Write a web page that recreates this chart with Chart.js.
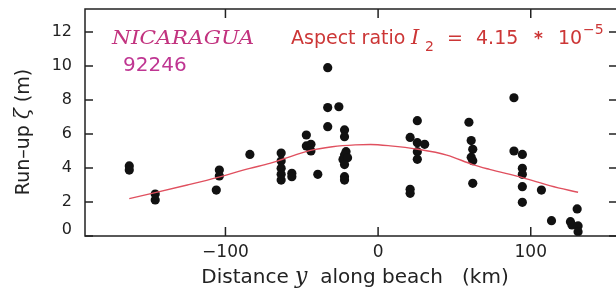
<!DOCTYPE html>
<html>
<head>
<meta charset="utf-8">
<script src="https://cdn.jsdelivr.net/npm/chart.js@4.4.0/dist/chart.umd.min.js"></script>
<style>
  html, body { margin: 0; padding: 0; background: #fff; overflow: hidden; }
  #wrap { width: 630px; height: 288px; }
</style>
</head>
<body>
<div id="wrap"><canvas id="runupChart" width="630" height="288"></canvas></div>
<script>
/*** Run-up measurements along the beach (Nicaragua 1992) ***/

// measured run-up (km, m)
const pointX = [-163, -163, -146, -146, -104, -104, -106, -84,
                -63.5, -63.5, -63.5, -63.5, -63.5, -56.5, -56.5,
                -47, -47, -44, -44, -39.5,
                -33, -33, -33, -25.7, -22, -22, -21, -22, -23, -20, -22, -22, -22,
                21, 21, 21, 25.7, 25.7, 25.7, 25.7, 30.5,
                59.5, 61, 62, 61, 62, 62,
                89, 89, 94.5, 94.5, 94.5, 94.5, 94.5,
                107, 113.6, 126, 127, 131, 131, 130.4];
const pointY = [4.12, 3.88, 2.47, 2.12, 3.88, 3.53, 2.7, 4.8,
                4.88, 4.41, 3.98, 3.63, 3.29, 3.69, 3.49,
                5.94, 5.3, 5.39, 5.0, 3.63,
                9.9, 7.55, 6.43, 7.6, 6.24, 5.84, 4.96, 4.76, 4.5, 4.6, 4.2, 3.49, 3.29,
                5.8, 2.75, 2.51, 6.78, 5.49, 4.96, 4.51, 5.39,
                6.69, 5.61, 5.1, 4.63, 4.43, 3.1,
                8.13, 5.0, 4.8, 3.98, 3.63, 2.9, 1.98,
                2.7, 0.9, 0.84, 0.65, 0.59, 0.25, 1.59];

// fitted curve
const curveX = [-163, -146, -125, -105, -84, -71, -63, -45, -30, -15, -5, 8, 26, 45, 62, 73, 95, 113, 131];
const curveY = [2.2, 2.55, 3.0, 3.45, 3.98, 4.27, 4.5, 5.02, 5.25, 5.36, 5.38, 5.3, 5.1, 4.76, 4.2, 3.92, 3.42, 2.95, 2.57];

const xTicks = [-100, 0, 100];
const yTicks = [0, 2, 4, 6, 8, 10, 12];

const SANS = '"DejaVu Sans", sans-serif';
const SERIF = '"DejaVu Serif", serif';

// draws a row of text pieces with different fonts (r.x pins a piece)
function drawRuns(c, x, y, runs) {
    runs.forEach(function (r) {
        if (r.x !== undefined) x = r.x;
        c.font = r.font;
        c.fillStyle = r.color;
        const k = r.stretch || 1;
        c.save();
        c.translate(x, y + (r.dy || 0));
        c.scale(k, 1);
        c.fillText(r.text, 0, 0);
        c.restore();
        x += c.measureText(r.text).width * k;
    });
}

function runsWidth(c, runs) {
    let w = 0;
    runs.forEach(function (r) {
        c.font = r.font;
        w += c.measureText(r.text).width * (r.stretch || 1);
    });
    return w;
}

// box, inward ticks, titles and labels
const framePlugin = {
    id: 'frame',
    afterDraw(chart) {
        const c = chart.ctx;
        const a = chart.chartArea;
        const sx = chart.scales.x;
        const sy = chart.scales.y;
        c.save();
        c.strokeStyle = '#222';
        c.lineWidth = 1.5;
        c.strokeRect(a.left, a.top, a.right - a.left, a.bottom - a.top);
        c.beginPath();
        xTicks.forEach(function (v) {
            const px = sx.getPixelForValue(v);
            c.moveTo(px, a.top); c.lineTo(px, a.top + 9);
            c.moveTo(px, a.bottom); c.lineTo(px, a.bottom - 9);
        });
        yTicks.forEach(function (v) {
            const py = sy.getPixelForValue(v);
            c.moveTo(a.left, py); c.lineTo(a.left + 8, py);
            c.moveTo(a.right, py); c.lineTo(a.right - 8, py);
        });
        c.stroke();

        c.textBaseline = 'alphabetic';
        c.textAlign = 'left';

        // station labels
        drawRuns(c, 112, 44, [{ text: 'NICARAGUA', font: 'italic 19px ' + SERIF, color: '#c2337f', stretch: 1.14 }]);
        drawRuns(c, 123, 71, [{ text: '92246', font: '20px ' + SANS, color: '#bf3592' }]);

        // aspect ratio note
        const red = '#cc3636';
        drawRuns(c, 291, 44, [
            { text: 'Aspect ratio', font: '19px ' + SANS, color: red },
            { text: 'I', font: 'italic 21px ' + SERIF, color: red, x: 411 },
            { text: '2', font: '14px ' + SANS, color: red, dy: 7, x: 425 },
            { text: '=', font: '19px ' + SANS, color: red, x: 447 },
            { text: '4.15', font: '19px ' + SANS, color: red, x: 476 },
            { text: '*', font: 'bold 17px ' + SANS, color: red, x: 534 },
            { text: '10', font: '19px ' + SANS, color: red, x: 558 },
            { text: '\u22125', font: '14px ' + SANS, color: red, dy: -10, x: 583 }
        ]);

        // x title
        const xt = [
            { text: 'Distance ', font: '20px ' + SANS, color: '#222' },
            { text: 'y', font: 'italic 22px ' + SERIF, color: '#222' },
            { text: '  along beach   (km)', font: '20px ' + SANS, color: '#222' }
        ];
        drawRuns(c, 355 - runsWidth(c, xt) / 2, 283, xt);

        // y title
        const yt = [
            { text: 'Run\u2013up ', font: '19px ' + SANS, color: '#222' },
            { text: '\u03b6', font: 'italic 20px ' + SERIF, color: '#222' },
            { text: ' (m)', font: '19px ' + SANS, color: '#222' }
        ];
        c.translate(29, 132);
        c.rotate(-Math.PI / 2);
        drawRuns(c, -runsWidth(c, yt) / 2, 0, yt);
        c.restore();
    }
};

const ctx = document.getElementById('runupChart').getContext('2d');
const myChart = new Chart(ctx, {
    type: 'scatter',
    data: {
        datasets: [{
            type: 'line',
            label: 'fit',
            data: curveX.map(function (x, i) { return { x: x, y: curveY[i] }; }),
            borderColor: '#e0505f',
            borderWidth: 1.4,
            pointRadius: 0,
            tension: 0.4,
            cubicInterpolationMode: 'monotone',
            fill: false
        }, {
            label: 'run-up',
            data: pointX.map(function (x, i) { return { x: x, y: pointY[i] }; }),
            backgroundColor: '#111',
            borderWidth: 0,
            pointRadius: 4.6
        }]
    },
    options: {
        responsive: false,
        animation: false,
        devicePixelRatio: 1,
        layout: { padding: { top: 9, right: 13, left: 0, bottom: 0 } },
        plugins: { legend: { display: false }, tooltip: { enabled: false } },
        scales: {
            x: {
                type: 'linear',
                min: -192,
                max: 156.5,
                grid: { display: false, drawTicks: false },
                border: { display: false },
                afterBuildTicks: function (s) { s.ticks = xTicks.map(function (v) { return { value: v }; }); },
                afterFit: function (s) { s.height = 52; s.paddingLeft = 0; s.paddingRight = 0; },
                ticks: {
                    padding: 6,
                    color: '#222',
                    font: { family: SANS, size: 17 },
                    callback: function (v) { return v < 0 ? '\u2212' + Math.abs(v) : String(v); }
                }
            },
            y: {
                min: 0,
                max: 13.35,
                grid: { display: false, drawTicks: false },
                border: { display: false },
                afterBuildTicks: function (s) { s.ticks = yTicks.map(function (v) { return { value: v }; }); },
                afterFit: function (s) { s.width = 85; s.paddingTop = 0; s.paddingBottom = 0; },
                ticks: {
                    padding: 13,
                    color: '#222',
                    font: { family: SANS, size: 16, lineHeight: 0.8 },
                    callback: function (v) { return v === 0 ? ['0', ''] : String(v); }
                }
            }
        }
    },
    plugins: [framePlugin]
});
</script>
</body>
</html>
